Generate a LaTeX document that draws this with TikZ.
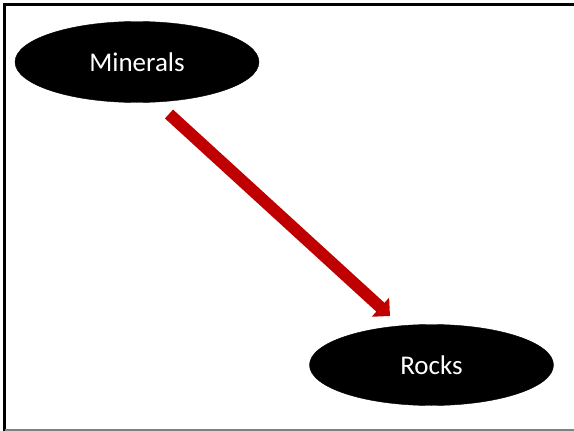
\documentclass[tikz,border=0pt]{standalone}
\usepackage{fontspec}
\setmainfont{Carlito}
\usetikzlibrary{shapes.geometric,arrows.meta}
\definecolor{arrowred}{HTML}{C00000}
\tikzset{
  blob/.style={ellipse, fill=black, draw=black, text=white, inner sep=0pt,
    minimum width=244pt, minimum height=81pt, font=\fontsize{27}{30}\selectfont},
  bigarrow/.style={draw=arrowred, line width=12pt, line cap=butt,
    -{Triangle[length=13pt 0 0,width=25pt 0 0,fill=arrowred]}}
}
\begin{document}
\begin{tikzpicture}[x=1pt,y=-1pt]
\useasboundingbox (0,0) rectangle (574,431);
\fill[white] (0,0) rectangle (574,431);
\draw[black, line width=3pt] (4.5,431) -- (4.5,4) -- (574,4);
\draw[gray, line width=2pt] (4.5,429.5) -- (574,429.5);
\node[blob] (m) at (137,62) {Minerals};
\node[blob] (r) at (431.5,365) {Rocks};
\coordinate (a) at (169,114);
\coordinate (b) at (390,316);
\draw[bigarrow] (a) -- (b);
\end{tikzpicture}
\end{document}
